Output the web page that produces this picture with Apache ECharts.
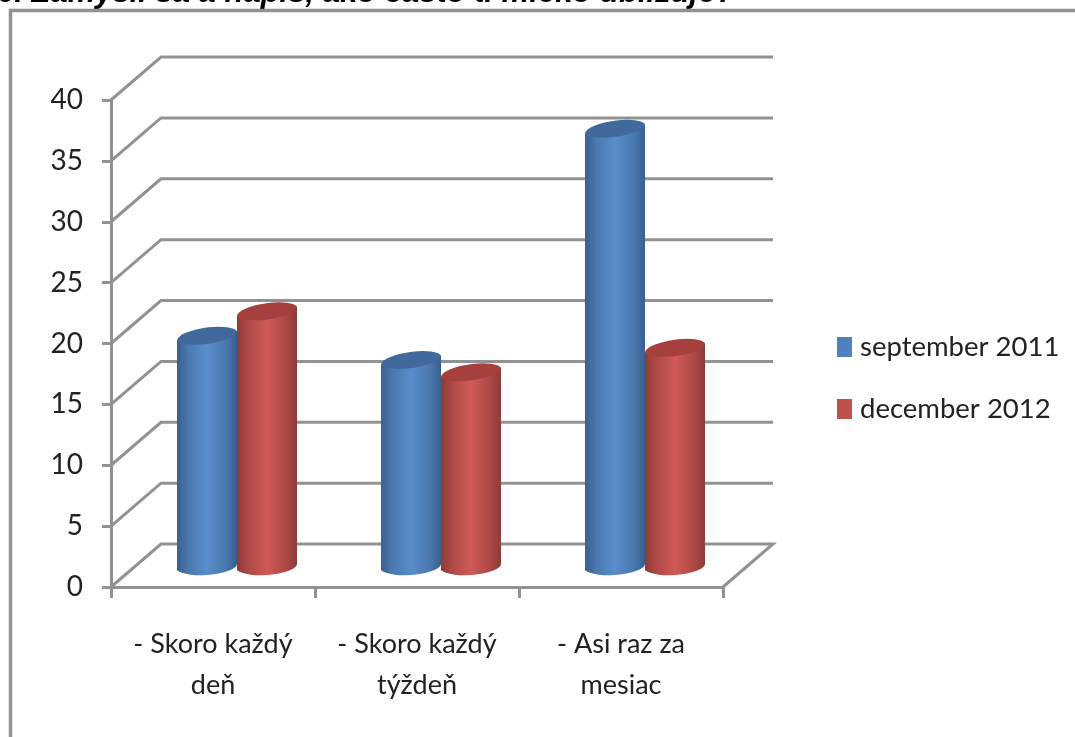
<!DOCTYPE html>
<html><head><meta charset="utf-8">
<style>html,body{margin:0;padding:0;background:#fff}#c{width:1075px;height:737px}</style>
<script src="https://cdn.jsdelivr.net/npm/echarts@6/dist/echarts.min.js"></script>
</head><body><div id="c"></div>
<script>
const categories = ['- Skoro každý\ndeň', '- Skoro každý\ntýždeň', '- Asi raz za\nmesiac'];
const september2011 = [19, 17, 36];
const december2012 = [21, 16, 18];
const ticks = [0, 5, 10, 15, 20, 25, 30, 35, 40];
const depthX = 50, depthY = 43, barW = 60, frontX = 24, frontY = 20;
const grey = '#929292';
const chart = echarts.init(document.getElementById('c'));

function cyl(palette, side) {
  return function (params, api) {
    const i = api.value(0), v = api.value(1);
    const c0 = api.coord([i, 0]), c1 = api.coord([i, v]);
    const cx = c0[0] + frontX + side * barW / 2;
    const xl = cx - barW / 2, xr = cx + barW / 2;
    const yb = c0[1] - frontY, yt = c1[1] - frontY;
    const tiltT = 4.5, tiltB = 3, rx = barW / 2 + 0.5, ry = 9, rot = -8;
    const body = `M${xl} ${yt + tiltT}L${xl} ${yb + tiltB}A${rx} ${ry} ${rot / 2} 0 0 ${xr} ${yb - tiltB}L${xr} ${yt - tiltT}Z`;
    const top = `M${xl} ${yt + tiltT}A${rx} ${ry} ${rot} 0 1 ${xr} ${yt - tiltT}A${rx} ${ry} ${rot} 0 1 ${xl} ${yt + tiltT}Z`;
    return { type: 'group', children: [
      { type: 'path', shape: { pathData: body }, style: { fill: new echarts.graphic.LinearGradient(0, 0, 1, 0, [
        { offset: 0, color: palette[0] }, { offset: 0.18, color: palette[1] },
        { offset: 0.5, color: palette[2] }, { offset: 0.82, color: palette[1] }, { offset: 1, color: palette[0] }
      ]) } },
      { type: 'path', shape: { pathData: top }, style: { fill: palette[3] } }
    ] };
  };
}
function wall(params, api) {
  const v = api.value(0);
  const a = api.coord([0, v]);
  const size = api.size([1, 0])[0];
  const x0 = a[0] - size / 2;
  const x1 = x0 + size * categories.length;
  const pts = [[x0, a[1]], [x0 + depthX, a[1] - depthY], [x1 + depthX, a[1] - depthY]];
  if (v === 0) pts.push([x1, a[1]]);
  return { type: 'polyline', shape: { points: pts }, style: { fill: null, stroke: grey, lineWidth: 3 } };
}
chart.setOption({
  animation: false,
  backgroundColor: '#fff',
  grid: { left: 111, top: 100, width: 612, height: 487 },
  title: { text: '6. Zamysli sa a napíš, ako často ti mleko ubližuje?', left: -3, top: -22, padding: 0,
    textStyle: { fontFamily: 'Liberation Sans', fontStyle: 'italic', fontWeight: 'bold', fontSize: 31, color: '#000' } },
  legend: { orient: 'vertical', left: 832, top: 328, itemWidth: 15, itemHeight: 20, itemGap: 34, icon: 'rect',
    data: ['september 2011', 'december 2012'],
    textStyle: { fontFamily: 'Lato', fontSize: 27.5, color: '#222', padding: [0, 0, 0, 3], height: 28, lineHeight: 28 } },
  xAxis: { type: 'category', data: categories,
    axisLine: { lineStyle: { color: grey, width: 3 } },
    axisTick: { show: true, length: 11, alignWithLabel: false, lineStyle: { color: grey, width: 3 } },
    axisLabel: { margin: 37, interval: 0, fontFamily: 'Lato', fontSize: 27, lineHeight: 41, color: '#222' } },
  yAxis: { type: 'value', min: 0, max: 40, interval: 5,
    splitLine: { show: false },
    axisLine: { show: true, lineStyle: { color: grey, width: 3 } },
    axisTick: { show: true, length: 9, lineStyle: { color: grey, width: 3 } },
    axisLabel: { margin: 28, fontFamily: 'Lato', fontSize: 28, color: '#222' } },
  series: [
    { type: 'custom', silent: true, z: 1, coordinateSystem: 'cartesian2d', encode: { y: 0 },
      data: ticks.map(t => [t]), renderItem: wall, clip: false },
    { name: 'september 2011', type: 'custom', z: 3, itemStyle: { color: '#4f81bd' }, encode: { x: 0, y: 1 },
      data: september2011.map((v, i) => [i, v]), renderItem: cyl(['#395f8e', '#4a78ae', '#5a8dcb', '#41699b'], -1) },
    { name: 'december 2012', type: 'custom', z: 3, itemStyle: { color: '#c0504d' }, encode: { x: 0, y: 1 },
      data: december2012.map((v, i) => [i, v]), renderItem: cyl(['#8b3b39', '#ad4845', '#d05a58', '#a5403e'], 1) }
  ],
  graphic: [{ type: 'polyline', silent: true, z: 10, shape: { points: [[10.5, 737], [10.5, 10.5], [1075, 10.5]] },
    style: { fill: null, stroke: grey, lineWidth: 3.5 } }]
});
</script></body></html>
